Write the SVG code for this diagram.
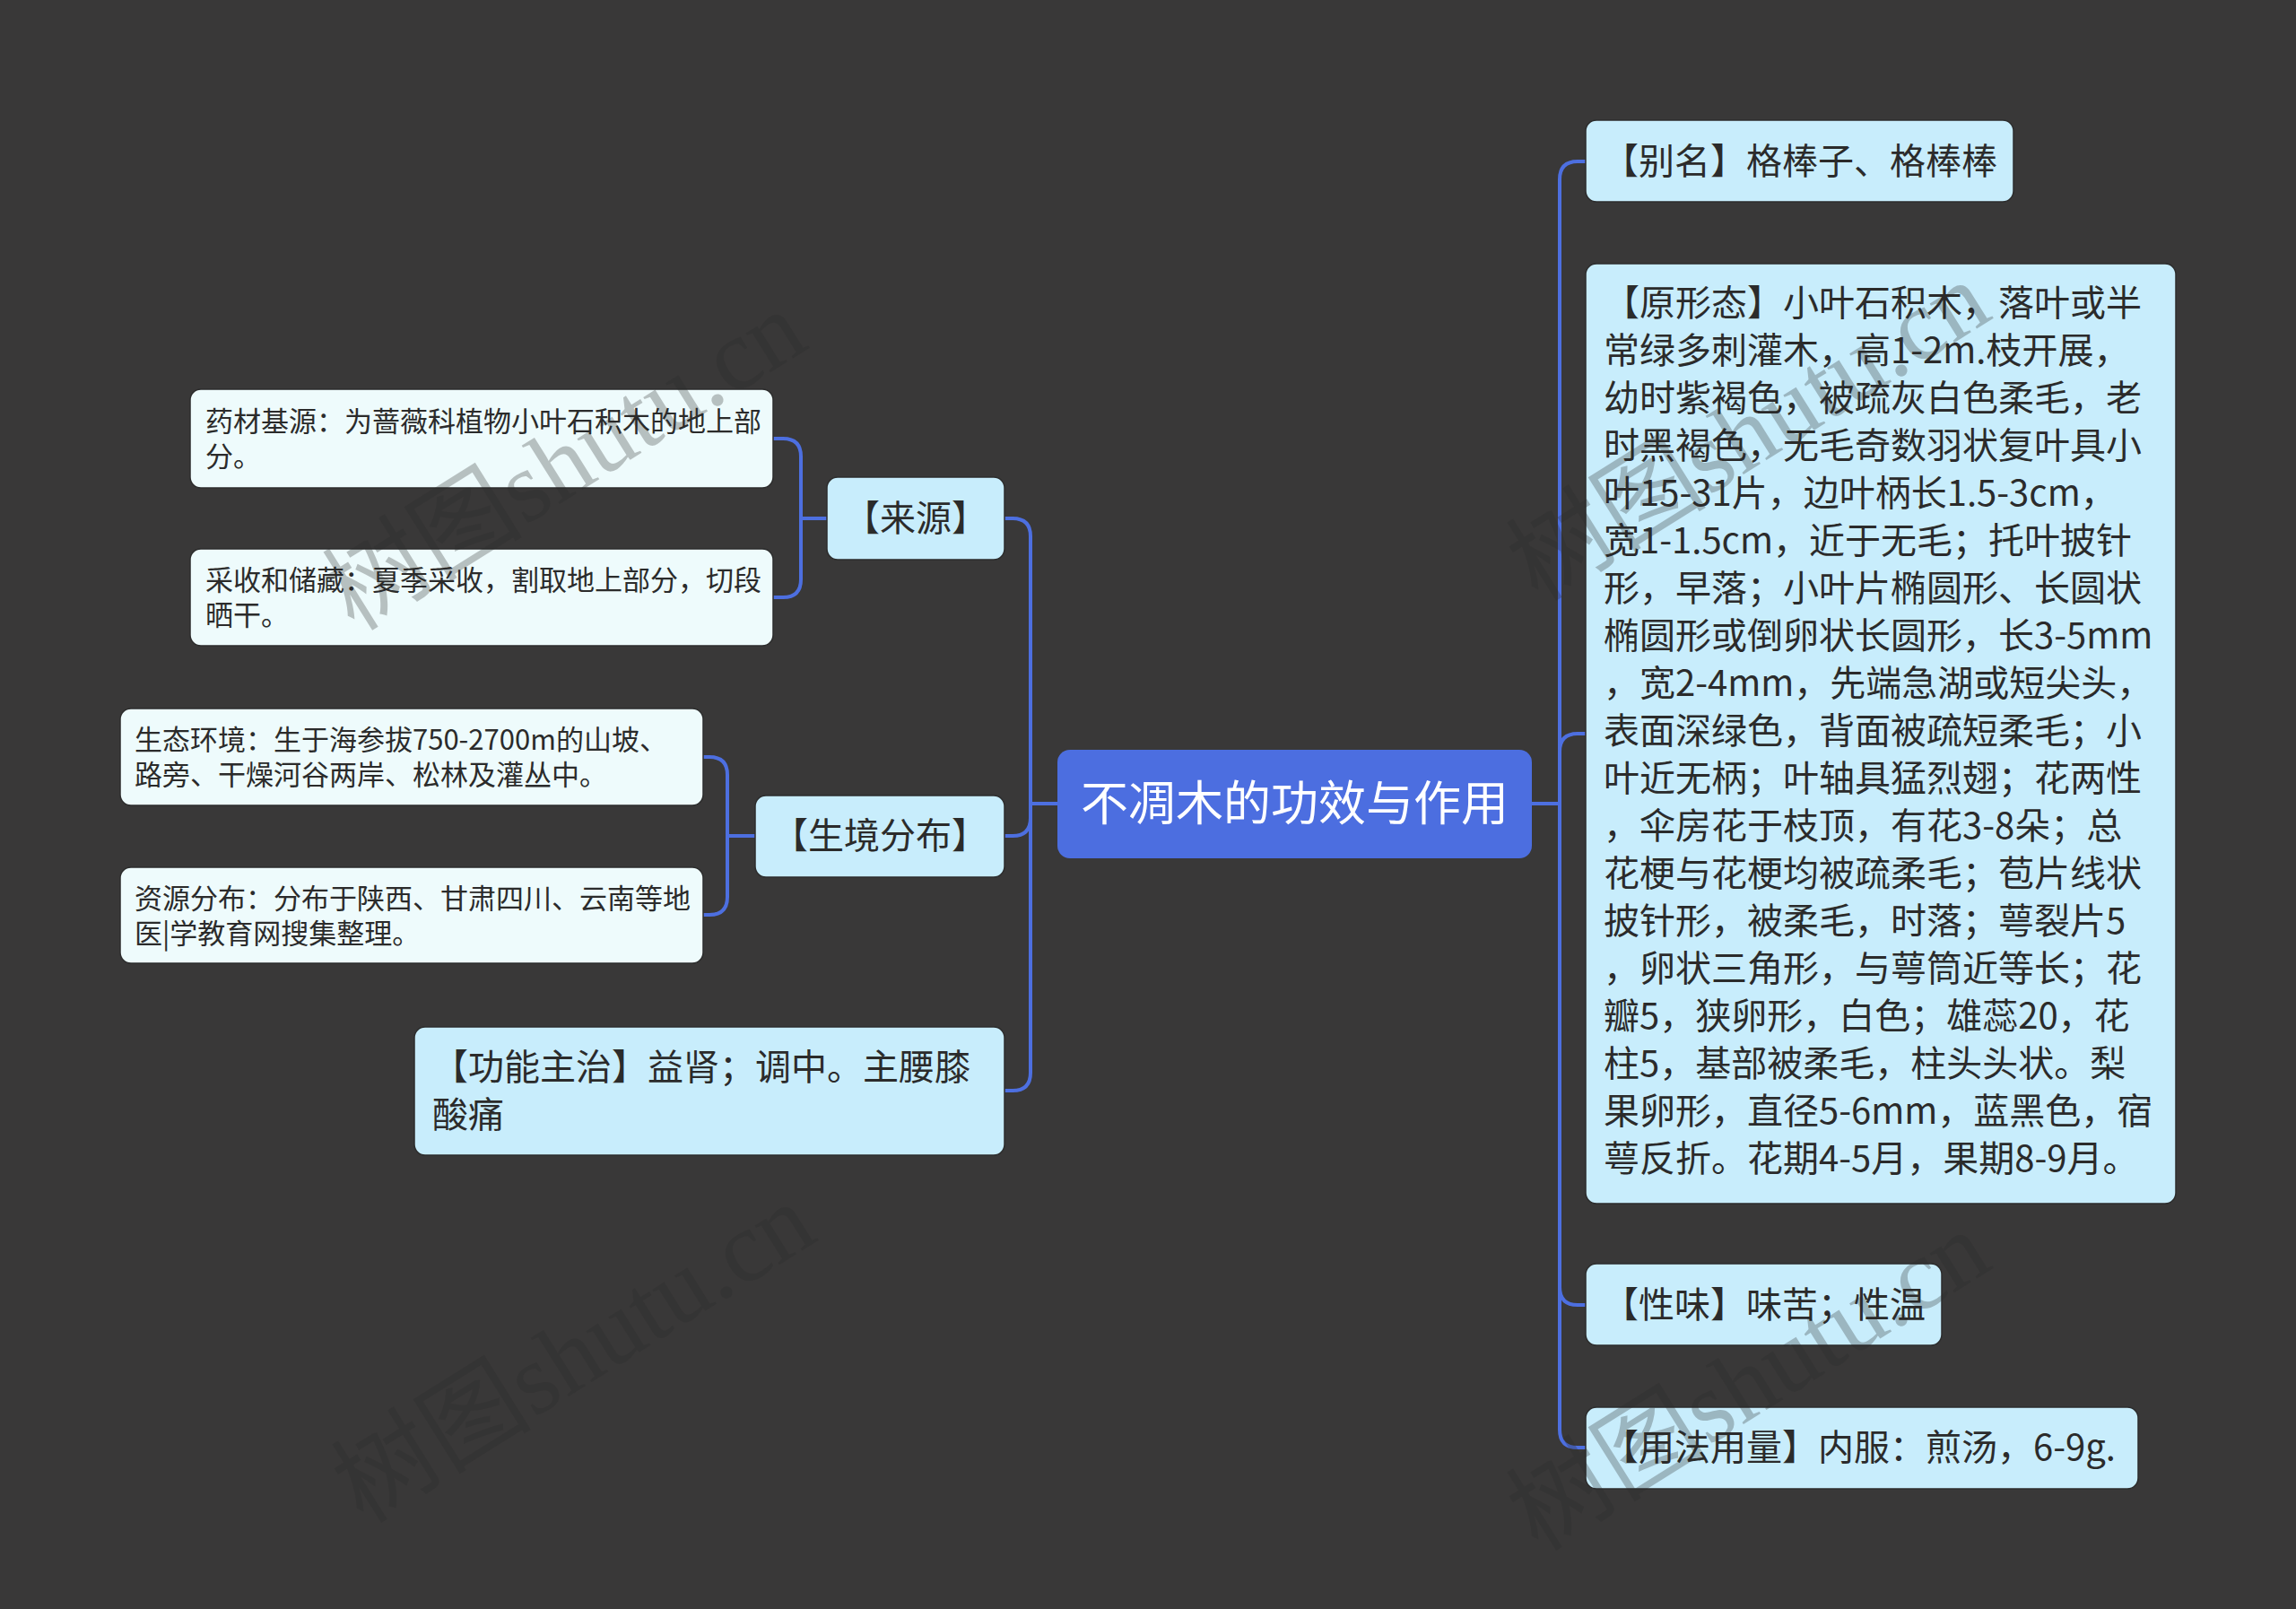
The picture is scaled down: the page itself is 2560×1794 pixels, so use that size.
<svg xmlns="http://www.w3.org/2000/svg" width="2560" height="1794" viewBox="0 0 2560 1794">
<style>
.bg{fill:#393838}
.conn path{fill:none;stroke:#4d6fe0;stroke-width:4;stroke-linecap:round}
.root rect{fill:#4c6ee0}
.l1 rect{fill:#c8edfc;stroke:#2c2c2c;stroke-width:1.5}
.l2 rect{fill:#eefbfc;stroke:#2c2c2c;stroke-width:1.5}
text{font-family:"Noto Sans CJK SC","Noto Sans",sans-serif}
.tr{font-size:53px;fill:#ffffff}
.t1{font-size:40px;fill:#2b2b2b}
.t2{font-size:31px;fill:#2b2b2b}
.wm{font-family:"Liberation Serif","Noto Sans CJK SC",serif;font-size:112px;fill:#2a2a2a;opacity:0.28}
</style>
<rect class="bg" x="0" y="0" width="2560" height="1794"/>
<g id="connectors" class="conn">
  <path d="M1708,896 H1739 V200 Q1739,180 1759,180 H1768"/>
  <path d="M1708,896 H1739 V838 Q1739,818 1759,818 H1768"/>
  <path d="M1708,896 H1739 V1435 Q1739,1455 1759,1455 H1768"/>
  <path d="M1708,896 H1739 V1594 Q1739,1614 1759,1614 H1768"/>
  <path d="M1179,896 H1149 V598 Q1149,578 1129,578 H1120"/>
  <path d="M1179,896 H1149 V912 Q1149,932 1129,932 H1120"/>
  <path d="M1179,896 H1149 V1196 Q1149,1216 1129,1216 H1120"/>
  <path d="M922,578 H893 V509 Q893,489 873,489 H862"/>
  <path d="M922,578 H893 V646 Q893,666 873,666 H862"/>
  <path d="M842,932 H811 V864 Q811,844 791,844 H784"/>
  <path d="M842,932 H811 V1000 Q811,1020 791,1020 H784"/>
</g>
<g id="root" class="root">
  <rect x="1179" y="836" width="529" height="121" rx="14"/>
  <text class="tr" x="1443.5" y="915" text-anchor="middle">不凋木的功效与作用</text>
</g>
<g id="n-bieming" class="l1">
  <rect x="1768" y="134" width="477" height="91" rx="12"/>
  <text class="t1" x="1787" y="194">【别名】格棒子、格棒棒</text>
</g>
<g id="n-yuanxingtai" class="l1">
  <rect x="1768" y="294" width="658" height="1048" rx="12"/>
  <text class="t1" y="352">
    <tspan x="1788">【原形态】小叶石积木，落叶或半</tspan>
    <tspan x="1788" dy="53">常绿多刺灌木，高1-2m.枝开展，</tspan>
    <tspan x="1788" dy="53">幼时紫褐色，被疏灰白色柔毛，老</tspan>
    <tspan x="1788" dy="53">时黑褐色，无毛奇数羽状复叶具小</tspan>
    <tspan x="1788" dy="53">叶15-31片，边叶柄长1.5-3cm，</tspan>
    <tspan x="1788" dy="53">宽1-1.5cm，近于无毛；托叶披针</tspan>
    <tspan x="1788" dy="53">形，早落；小叶片椭圆形、长圆状</tspan>
    <tspan x="1788" dy="53">椭圆形或倒卵状长圆形，长3-5mm</tspan>
    <tspan x="1788" dy="53">，宽2-4mm，先端急湖或短尖头，</tspan>
    <tspan x="1788" dy="53">表面深绿色，背面被疏短柔毛；小</tspan>
    <tspan x="1788" dy="53">叶近无柄；叶轴具猛烈翅；花两性</tspan>
    <tspan x="1788" dy="53">，伞房花于枝顶，有花3-8朵；总</tspan>
    <tspan x="1788" dy="53">花梗与花梗均被疏柔毛；苞片线状</tspan>
    <tspan x="1788" dy="53">披针形，被柔毛，时落；萼裂片5</tspan>
    <tspan x="1788" dy="53">，卵状三角形，与萼筒近等长；花</tspan>
    <tspan x="1788" dy="53">瓣5，狭卵形，白色；雄蕊20，花</tspan>
    <tspan x="1788" dy="53">柱5，基部被柔毛，柱头头状。梨</tspan>
    <tspan x="1788" dy="53">果卵形，直径5-6mm，蓝黑色，宿</tspan>
    <tspan x="1788" dy="53">萼反折。花期4-5月，果期8-9月。</tspan>
  </text>
</g>
<g id="n-xingwei" class="l1">
  <rect x="1768" y="1409" width="397" height="91" rx="12"/>
  <text class="t1" x="1787" y="1469">【性味】味苦；性温</text>
</g>
<g id="n-yongfa" class="l1">
  <rect x="1768" y="1569" width="616" height="91" rx="12"/>
  <text class="t1" x="1787" y="1628">【用法用量】内服：煎汤，6-9g.</text>
</g>
<g id="n-laiyuan" class="l1">
  <rect x="922" y="532" width="198" height="92" rx="12"/>
  <text class="t1" x="1021" y="592" text-anchor="middle">【来源】</text>
</g>
<g id="n-shengjing" class="l1">
  <rect x="842" y="887" width="278" height="91" rx="12"/>
  <text class="t1" x="981" y="946" text-anchor="middle">【生境分布】</text>
</g>
<g id="n-gongneng" class="l1">
  <rect x="462" y="1145" width="658" height="143" rx="12"/>
  <text class="t1" y="1204">
    <tspan x="482">【功能主治】益肾；调中。主腰膝</tspan>
    <tspan x="482" dy="53">酸痛</tspan>
  </text>
</g>
<g id="n-yaocai" class="l2">
  <rect x="212" y="434" width="650" height="110" rx="12"/>
  <text class="t2" y="481">
    <tspan x="229">药材基源：为蔷薇科植物小叶石积木的地上部</tspan>
    <tspan x="229" dy="39">分。</tspan>
  </text>
</g>
<g id="n-caishou" class="l2">
  <rect x="212" y="612" width="650" height="108" rx="12"/>
  <text class="t2" y="658">
    <tspan x="229">采收和储藏：夏季采收，割取地上部分，切段</tspan>
    <tspan x="229" dy="39">晒干。</tspan>
  </text>
</g>
<g id="n-shengtai" class="l2">
  <rect x="134" y="790" width="650" height="108" rx="12"/>
  <text class="t2" y="836">
    <tspan x="150">生态环境：生于海参拔750-2700m的山坡、</tspan>
    <tspan x="150" dy="39">路旁、干燥河谷两岸、松林及灌丛中。</tspan>
  </text>
</g>
<g id="n-ziyuan" class="l2">
  <rect x="134" y="967" width="650" height="107" rx="12"/>
  <text class="t2" y="1013">
    <tspan x="150">资源分布：分布于陕西、甘肃四川、云南等地</tspan>
    <tspan x="150" dy="39">医|学教育网搜集整理。</tspan>
  </text>
</g>
<g id="watermarks">
  <text class="wm" transform="translate(395,705) rotate(-32)">树图shutu.cn</text>
  <text class="wm" transform="translate(1715,672) rotate(-32)">树图shutu.cn</text>
  <text class="wm" transform="translate(405,1700) rotate(-32)">树图shutu.cn</text>
  <text class="wm" transform="translate(1715,1731) rotate(-32)">树图shutu.cn</text>
</g>
</svg>
